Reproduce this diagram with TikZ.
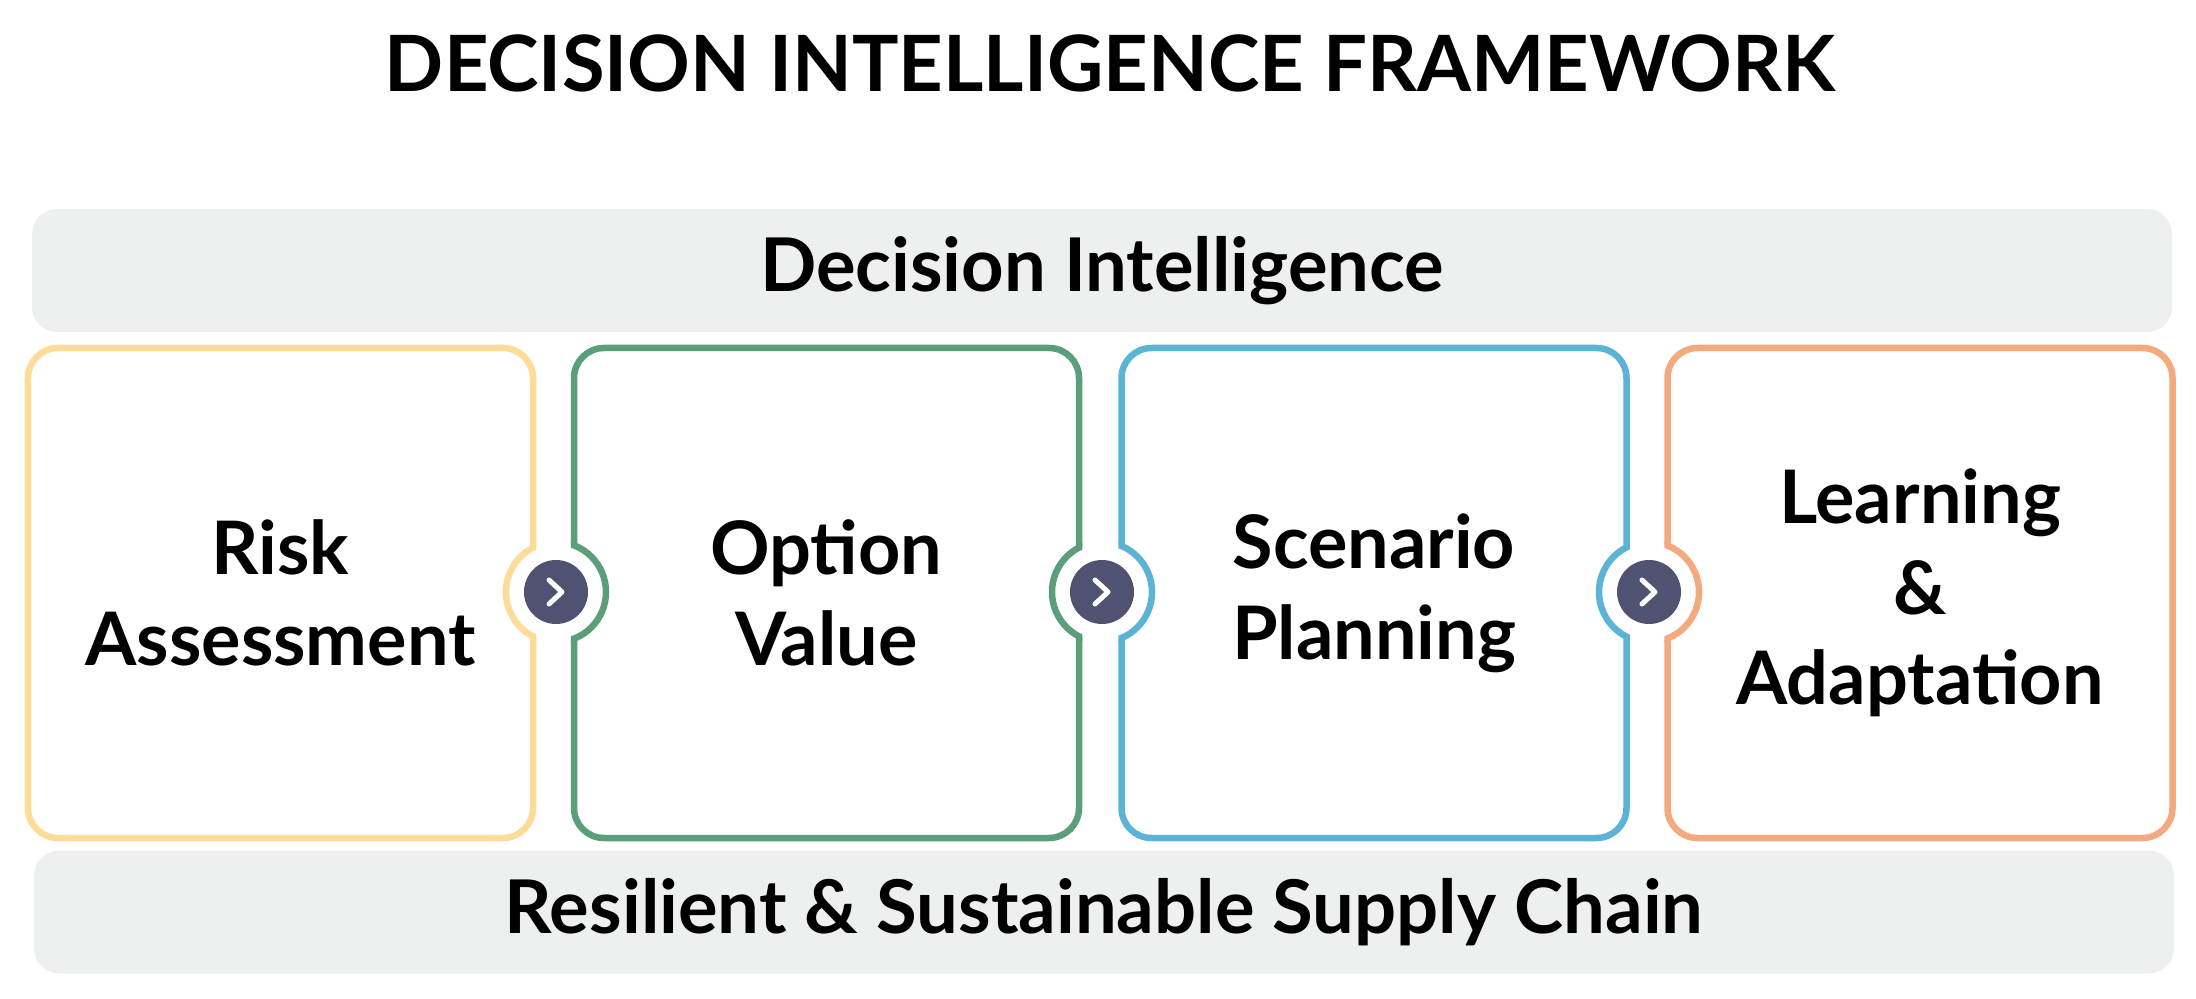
\documentclass[tikz,border=0pt]{standalone}
\usepackage{fontspec}
\setmainfont{Lato}
\usetikzlibrary{positioning,calc}
\definecolor{bandgray}{HTML}{EEF0EF}
\definecolor{riskcol}{HTML}{FDDC99}
\definecolor{optcol}{HTML}{5A9E7A}
\definecolor{scencol}{HTML}{5BB3D6}
\definecolor{learncol}{HTML}{F5A97F}
\definecolor{knobcol}{HTML}{4F5270}
\begin{document}
\begin{tikzpicture}[
    di band/.style={rectangle, fill=bandgray, rounded corners=0.25cm, minimum width=21.4cm, minimum height=1.23cm, font=\fontsize{21.1}{25}\selectfont\bfseries},
    di block/.style={rectangle, draw, fill=white, line width=0.065cm, rounded corners=0.3cm, minimum width=5.05cm, minimum height=4.9cm, align=center, font=\fontsize{21}{25.8}\selectfont\bfseries},
    di knob/.style={circle, fill=knobcol, minimum size=0.64cm, inner sep=0pt}]

    \useasboundingbox (0,0) rectangle (21.96,9.98);

    \node [anchor=base, font=\fontsize{22.1}{26}\selectfont\bfseries] (title) at (11.1,9.06) {DECISION INTELLIGENCE FRAMEWORK};

    \node [di band] (top) at (11.02,7.275) {Decision Intelligence};
    \node [di band] (bottom) at (11.04,0.86) {Resilient \& Sustainable Supply Chain};

    \node [di block, draw=riskcol] (risk) at (2.805,4.05) {Risk\\Assessment};
    \node [di block, draw=optcol] (option) at (8.265,4.05) {Option\\Value};
    \node [di block, draw=scencol] (scen) at (13.74,4.05) {Scenario\\Planning};
    \node [di block, draw=learncol] (learn) at (19.2,4.05) {Learning\\\&\\Adaptation};

    % notches and knobs between the blocks
    \foreach \a/\b/\ca/\cb/\x [count=\i] in {risk/option/riskcol/optcol/5.56, option/scen/optcol/scencol/11.02, scen/learn/scencol/learncol/16.49} {
        \coordinate (k\i) at (\x,4.06);
        \fill [white] (k\i) circle (0.5);
        \begin{scope}
            \clip (\a.north west) rectangle (\a.south east);
            \draw [\ca, line width=0.065cm] (k\i) circle (0.5);
        \end{scope}
        \begin{scope}
            \clip (\b.north west) rectangle (\b.south east);
            \draw [\cb, line width=0.065cm] (k\i) circle (0.5);
        \end{scope}
        \node [di knob] (knob\i) at (k\i) {};
        \draw [white, line width=0.05cm, line cap=round, line join=round]
            ($(knob\i)+(-0.07,0.12)$) -- ($(knob\i)+(0.06,0)$) -- ($(knob\i)+(-0.07,-0.12)$);
    }

\end{tikzpicture}
\end{document}
